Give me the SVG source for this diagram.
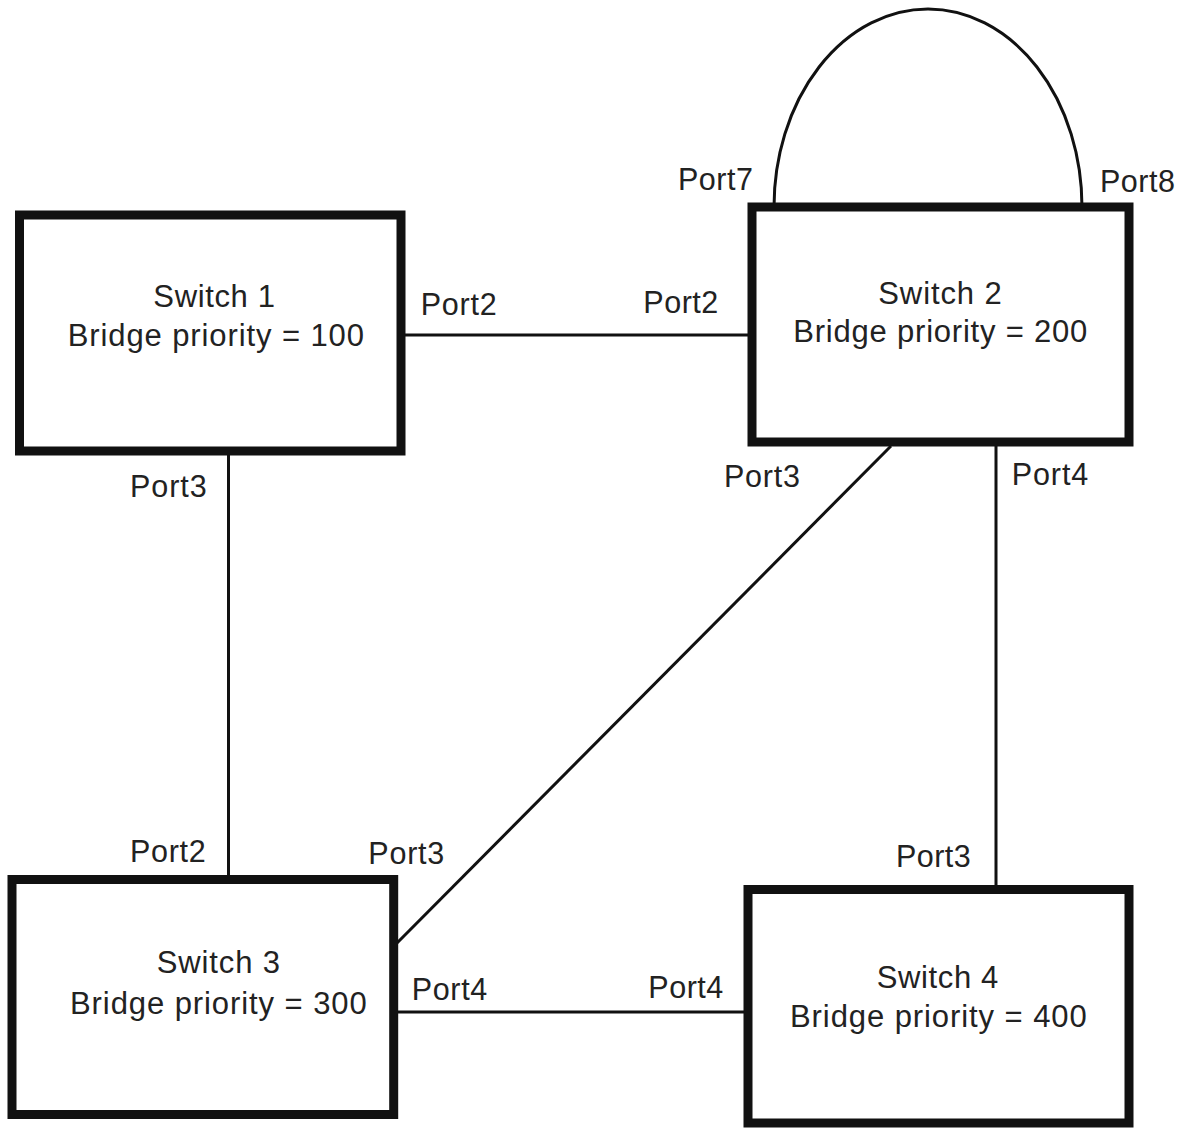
<svg xmlns="http://www.w3.org/2000/svg" width="1188" height="1128" viewBox="0 0 1188 1128">
<style>
.box{fill:#fff;stroke:#111;stroke-width:9}
.ln{fill:none;stroke:#111;stroke-width:3}
text{font-family:"Liberation Sans",Arial,sans-serif;fill:#222}
.t{font-size:31px}
.p{font-size:30.5px}
</style>
<rect width="1188" height="1128" fill="#fff"/>
<g id="connectors">
<line class="ln" x1="405" y1="335" x2="748" y2="335"/>
<line class="ln" x1="228.5" y1="455" x2="228.5" y2="875"/>
<line class="ln" x1="891" y1="446" x2="397" y2="943"/>
<line class="ln" x1="996" y1="446" x2="996" y2="885"/>
<line class="ln" x1="398" y1="1012" x2="744" y2="1012"/>
<path class="ln" d="M774,207 A154,198 0 0 1 1082,207"/>
</g>
<g id="switch1">
<rect class="box" x="19.5" y="215" width="381.5" height="236"/>
<text class="t" x="153.3" y="306.7" textLength="121.7">Switch 1</text>
<text class="t" x="67.7" y="345.7" textLength="296.3">Bridge priority = 100</text>
</g>
<g id="switch2">
<rect class="box" x="752" y="207" width="377" height="235"/>
<text class="t" x="878.3" y="304" textLength="123.4">Switch 2</text>
<text class="t" x="793.3" y="342.3" textLength="294">Bridge priority = 200</text>
</g>
<g id="switch3">
<rect class="box" x="12" y="879.5" width="381.7" height="235"/>
<text class="t" x="156.7" y="973.3" textLength="123.3">Switch 3</text>
<text class="t" x="70" y="1014" textLength="296.7">Bridge priority = 300</text>
</g>
<g id="switch4">
<rect class="box" x="748" y="889.5" width="381" height="233.5"/>
<text class="t" x="876.7" y="988.3" textLength="121.6">Switch 4</text>
<text class="t" x="790" y="1026.7" textLength="296.7">Bridge priority = 400</text>
</g>
<g id="port-labels">
<text class="p" x="420.7" y="315" textLength="76">Port2</text>
<text class="p" x="643.3" y="313.3" textLength="75">Port2</text>
<text class="p" x="678" y="190" textLength="75">Port7</text>
<text class="p" x="1100" y="192" textLength="75">Port8</text>
<text class="p" x="130" y="496.7" textLength="76.7">Port3</text>
<text class="p" x="724" y="486.7" textLength="76">Port3</text>
<text class="p" x="1011.7" y="485" textLength="76.6">Port4</text>
<text class="p" x="130" y="861.7" textLength="75.7">Port2</text>
<text class="p" x="368.3" y="864.3" textLength="76">Port3</text>
<text class="p" x="896" y="866.7" textLength="74.7">Port3</text>
<text class="p" x="411.7" y="1000" textLength="75.6">Port4</text>
<text class="p" x="648.3" y="997.7" textLength="75">Port4</text>
</g>
</svg>
